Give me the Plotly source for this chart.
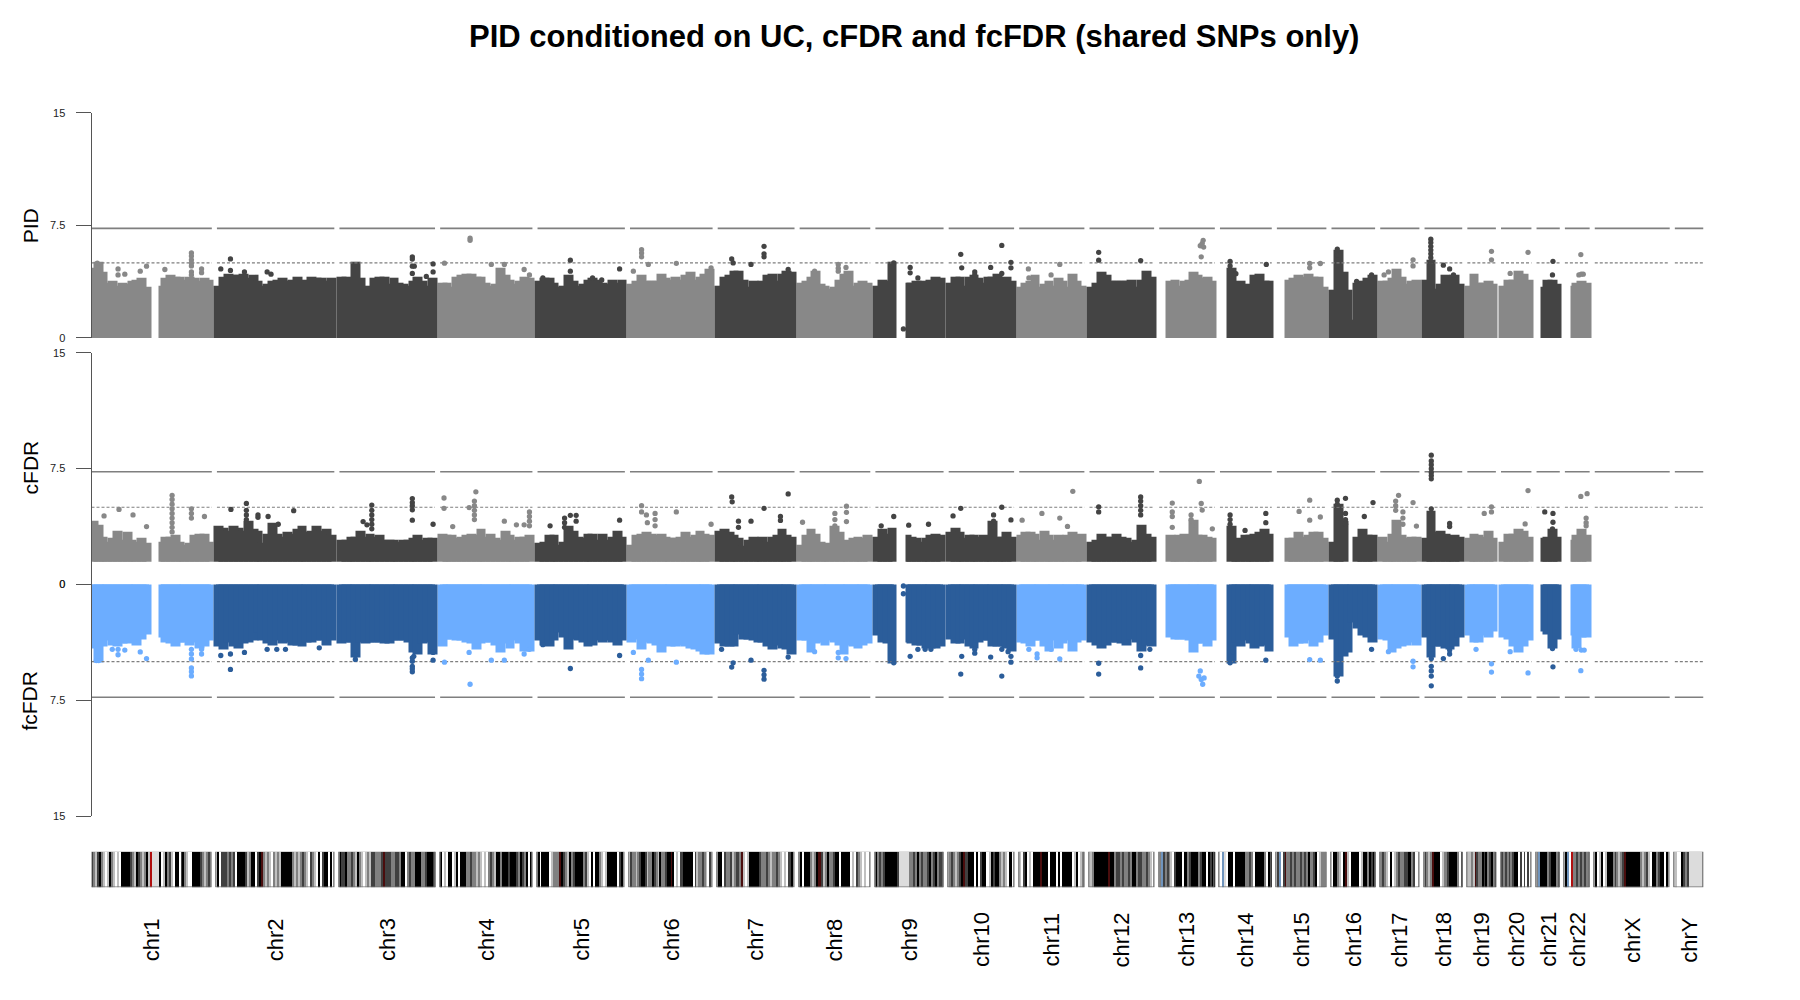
import plotly.graph_objects as go

CHROMS = ["chr1","chr2","chr3","chr4","chr5","chr6","chr7","chr8","chr9","chr10","chr11","chr12",
          "chr13","chr14","chr15","chr16","chr17","chr18","chr19","chr20","chr21","chr22","chrX","chrY"]
LENGTHS_MB = [249.25,243.2,198.02,191.15,180.92,171.12,159.14,146.36,141.21,135.53,135.01,133.85,
              115.17,107.35,102.53,90.35,81.2,78.08,59.13,63.03,48.13,51.3,155.27,59.37]
DARK_CHROMS = ["chr2","chr3","chr5","chr7","chr9","chr10","chr12","chr14","chr16","chr18","chr21"]
UNMAPPED_MB = {"chr1":(120,146),"chr9":(40,69),"chr13":(0,19),"chr14":(0,20),"chr15":(0,21),"chr21":(0,14),"chr22":(0,17)}
N = None

# top of the dense mass along each chromosome, PID track
PID_CHR1 = [4.5,4.9,4.2,3.5,3.6,3.3,3.5,3.4,3.6,3.7,3.8,3.2,N,N,3.3,3.8,4.0,3.9,3.9,3.7,3.9,3.8,3.6,3.8,3.7]
PID_CHR2 = [3.3,3.9,4.1,4.0,4.0,4.1,3.8,4.0,3.6,3.3,3.4,3.6,3.7,3.8,3.6,3.7,3.9,3.6,3.7,3.9,3.8,3.8,3.6,3.8]
PID_CHR3 = [3.9,3.9,3.8,4.9,3.8,3.3,3.1,3.8,3.9,3.9,3.4,3.8,3.5,3.4,3.3,3.6,3.9,3.6,3.3,3.8]
PID_CHR4 = [3.5,3.5,3.2,3.9,4.0,4.1,4.1,3.9,3.9,3.5,3.3,3.4,4.5,4.0,3.7,3.4,3.6,3.9,3.8]
PID_CHR5 = [3.6,3.8,3.8,3.5,3.2,3.3,4.0,3.6,3.3,3.4,3.7,3.8,3.7,3.5,3.4,3.7,3.5,3.7]
PID_CHR6 = [3.4,3.6,4.0,3.6,3.6,3.6,4.1,3.8,3.7,3.9,3.7,4.0,4.2,3.7,3.9,4.1,4.4]
PID_CHR7 = [3.3,3.9,4.0,4.3,4.3,3.7,3.2,3.6,3.4,3.6,4.0,4.1,3.6,4.1,4.3,4.2]
PID_CHR8 = [3.5,3.6,3.9,4.3,3.4,3.3,3.1,3.2,3.7,4.1,4.3,3.3,3.5,3.6,3.5]
PID_CHR9 = [3.3,3.7,3.6,4.9,N,N,3.5,3.5,3.6,3.6,3.4,3.7,3.9,3.8]
PID_CHR10 = [3.5,3.9,3.9,3.3,3.9,4.0,3.8,3.5,3.9,3.9,4.1,3.7,3.9,3.6]
PID_CHR11 = [3.2,3.5,3.6,4.0,3.2,3.4,3.6,3.3,3.8,3.6,3.2,4.1,3.6,3.3]
PID_CHR12 = [3.2,3.5,4.2,4.0,3.6,3.6,3.6,3.6,3.7,3.2,3.7,4.3,3.9]
PID_CHR13 = [N,N,3.6,3.7,3.3,3.6,3.7,4.2,4.0,3.8,3.9,3.6]
PID_CHR14 = [N,N,4.5,3.3,3.6,3.4,3.3,4.0,4.1,3.6,3.6]
PID_CHR15 = [N,N,3.7,3.8,4.0,3.9,4.1,3.9,3.9,3.2]
PID_CHR16 = [3.0,5.7,4.2,3.0,1.0,3.5,3.6,3.8,4.0]
PID_CHR17 = [3.6,3.6,3.8,4.4,3.9,3.4,3.6,3.7]
PID_CHR18 = [3.7,5.0,3.1,3.4,4.0,3.7,4.0,3.4]
PID_CHR19 = [3.3,4.1,3.5,3.5,3.6,3.4]
PID_CHR20 = [3.3,3.7,3.7,4.3,4.1,3.7]
PID_CHR21 = [N,3.2,3.7,3.7,3.4]
PID_CHR22 = [N,3.3,3.5,3.6,3.5]

# cFDR track
CFDR_CHR1 = [3.9,3.7,2.9,2.6,2.8,3.3,2.7,3.2,2.7,2.6,2.8,2.5,N,N,2.6,2.9,2.9,3.0,2.6,2.4,2.5,3.0,3.1,3.1,2.6]
CFDR_CHR2 = [3.6,3.5,3.3,3.6,3.5,3.3,3.9,3.4,3.3,2.5,3.1,3.8,3.1,2.9,3.2,3.1,3.4,3.6,3.2,3.3,3.6,3.3,3.4,3.0]
CFDR_CHR3 = [2.7,2.7,2.9,2.9,3.3,2.9,3.1,2.9,3.0,2.7,2.7,2.7,2.6,2.7,2.7,2.8,3.0,2.7,2.8,2.8]
CFDR_CHR4 = [3.1,3.0,3.0,2.8,2.9,3.0,3.1,3.0,3.4,2.9,3.1,2.8,2.7,3.3,3.0,2.7,2.9,2.9,3.0]
CFDR_CHR5 = [2.5,2.6,3.0,3.0,2.4,2.6,3.6,3.3,2.9,2.8,3.1,3.1,2.7,3.1,2.7,2.9,3.3,2.9]
CFDR_CHR6 = [2.4,3.0,3.1,3.2,3.1,3.0,3.1,2.9,2.8,2.8,2.9,3.2,2.9,3.0,3.3,3.1,3.0]
CFDR_CHR7 = [3.3,3.4,3.2,3.0,2.8,2.3,2.7,2.9,2.8,2.9,2.6,2.9,3.0,3.4,3.0,2.9]
CFDR_CHR8 = [2.4,3.0,3.4,3.1,2.6,2.4,2.5,3.6,3.2,2.6,2.7,2.8,2.9,2.8,3.0]
CFDR_CHR9 = [2.9,3.4,3.1,3.5,N,N,3.0,2.9,2.8,2.6,2.8,3.0,3.1,3.0]
CFDR_CHR10 = [3.2,3.5,3.2,2.8,3.0,3.0,2.9,3.0,2.9,3.9,2.9,2.9,3.2,2.9]
CFDR_CHR11 = [3.0,3.2,3.2,3.1,2.7,3.3,3.0,2.7,3.0,2.9,3.0,3.2,3.0,3.1]
CFDR_CHR12 = [2.6,2.7,3.1,2.9,2.9,3.1,2.9,2.8,2.6,2.7,3.7,3.1,2.9]
CFDR_CHR13 = [N,N,3.0,2.9,3.0,3.1,2.9,4.0,3.0,3.0,2.9,2.8]
CFDR_CHR14 = [N,N,3.6,2.7,2.8,3.0,3.0,3.1,3.2,3.4,3.1]
CFDR_CHR15 = [N,N,2.8,2.8,3.2,2.9,3.0,3.2,3.2,2.8]
CFDR_CHR16 = [2.6,5.0,3.9,N,N,2.9,3.4,3.0,3.0]
CFDR_CHR17 = [2.9,2.6,3.1,4.0,3.0,2.8,2.9,2.9]
CFDR_CHR18 = [2.8,4.6,3.2,3.3,3.1,2.9,3.0,2.9]
CFDR_CHR19 = [2.8,3.1,3.0,2.9,3.3,2.8]
CFDR_CHR20 = [2.6,3.1,3.1,3.4,3.3,2.9]
CFDR_CHR21 = [N,2.8,2.9,3.4,2.9]
CFDR_CHR22 = [N,2.7,3.0,3.4,3.0]
CFDR_FLOOR = 1.58

# fcFDR track (drawn downward)
FCFDR_CHR1 = [4.0,4.9,3.9,3.5,3.8,3.9,3.7,3.7,3.6,3.8,3.4,3.1,N,N,3.3,3.6,3.7,3.9,3.6,3.6,3.8,3.6,4.0,3.9,3.5]
FCFDR_CHR2 = [3.9,4.1,3.6,3.9,4.0,3.7,3.6,3.5,3.0,3.5,3.7,3.8,3.5,3.7,3.6,3.8,3.8,3.9,3.6,3.6,3.5,3.5,3.8,3.5]
FCFDR_CHR3 = [3.7,3.6,3.6,4.6,3.6,3.7,3.6,3.6,3.6,3.7,3.7,3.5,3.5,3.5,3.6,4.3,4.4,3.7,3.6,4.4]
FCFDR_CHR4 = [3.9,3.4,3.4,3.5,3.5,3.6,3.7,4.1,3.7,3.6,3.6,3.8,4.3,3.7,4.0,3.5,3.7,4.2,4.2]
FCFDR_CHR5 = [3.5,3.8,3.9,3.5,3.0,3.3,4.1,3.4,3.5,3.6,3.9,3.8,3.5,3.6,3.5,3.6,3.8,3.5]
FCFDR_CHR6 = [3.6,3.4,4.1,3.6,3.7,3.8,4.3,3.7,3.9,3.9,3.8,3.9,4.0,4.1,4.2,4.4,4.4]
FCFDR_CHR7 = [3.7,3.9,3.9,3.9,3.1,3.4,3.4,3.5,3.6,3.6,3.9,4.1,3.8,4.0,4.1,4.4]
FCFDR_CHR8 = [3.5,3.5,4.3,3.7,3.6,3.8,3.5,3.6,3.8,4.4,3.8,3.9,4.0,3.8,3.7]
FCFDR_CHR9 = [3.2,3.6,3.7,5.0,N,N,3.6,3.7,3.8,3.8,4.0,4.0,4.0,3.9]
FCFDR_CHR10 = [3.4,3.7,3.7,3.4,3.9,4.0,3.6,3.5,3.5,3.9,3.9,3.9,4.0,4.2]
FCFDR_CHR11 = [3.6,3.7,3.9,3.5,3.5,3.9,4.2,3.5,4.0,3.7,3.5,4.2,3.6,3.5]
FCFDR_CHR12 = [3.6,3.8,4.0,3.8,3.6,3.6,3.7,3.8,3.4,3.6,4.2,3.8,3.9]
FCFDR_CHR13 = [N,N,3.3,3.4,3.4,3.4,3.5,4.3,3.7,3.7,3.9,3.5]
FCFDR_CHR14 = [N,N,5.0,3.6,3.9,3.5,3.7,4.0,3.9,3.8,4.2]
FCFDR_CHR15 = [N,N,3.3,3.9,3.7,3.7,3.5,3.9,3.6,3.2]
FCFDR_CHR16 = [3.4,5.8,4.5,4.3,2.3,2.7,3.2,3.3,3.6]
FCFDR_CHR17 = [3.4,3.5,4.3,4.0,3.9,3.8,3.6,3.8]
FCFDR_CHR18 = [3.3,4.6,3.9,3.9,4.0,4.1,3.9,3.3]
FCFDR_CHR19 = [3.2,3.6,3.6,3.2,3.3,2.9]
FCFDR_CHR20 = [3.3,3.4,3.9,4.3,3.9,3.5]
FCFDR_CHR21 = [N,2.9,3.1,4.0,3.4]
FCFDR_CHR22 = [N,3.2,4.0,3.3,3.3]

# isolated SNPs: (chromosome, position Mb, -log10 value)
PID_PEAKS = [("chr1",12,4.99),("chr1",55,4.6),("chr1",55,4.2),("chr1",69,4.25),("chr1",101,4.45),("chr1",114,4.78),
 ("chr1",152,4.56),("chr1",207,5.66),("chr1",207,5.45),("chr1",207,5.2),("chr1",207,5.0),("chr1",207,4.8),("chr1",207,4.4),("chr1",207,4.2),("chr1",228,4.6),("chr1",228,4.35),
 ("chr2",8,4.6),("chr2",28,5.26),("chr2",28,4.5),("chr2",57,4.4),("chr2",104,4.4),("chr2",112,4.25),
 ("chr3",151,5.4),("chr3",151,5.25),("chr3",151,4.78),("chr3",151,4.3),("chr3",194,4.93),("chr3",194,4.4),("chr3",180,4.1),("chr3",155,4.78),
 ("chr4",9,4.98),("chr4",62,6.64),("chr4",62,6.5),("chr4",106,4.9),("chr4",133,4.9),("chr4",174,4.56),("chr4",185,4.2),
 ("chr5",11,4.0),("chr5",68,5.18),("chr5",68,4.45),("chr5",114,4.0),("chr5",133,3.86),("chr5",170,4.6),
 ("chr6",7,4.45),("chr6",24,5.88),("chr6",24,5.65),("chr6",24,5.4),("chr6",38,4.9),("chr6",96,4.97),("chr6",168,4.67),
 ("chr7",29,5.26),("chr7",32,5.0),("chr7",69,4.9),("chr7",96,6.1),("chr7",96,5.6),("chr7",96,5.4),("chr7",146,4.56),
 ("chr8",31,4.45),("chr8",80,4.9),("chr8",80,4.65),("chr8",80,4.45),("chr8",96,4.7),
 ("chr9",38,5.0),("chr9",58,0.6),("chr9",72,4.7),("chr9",72,4.34),("chr9",88,4.0),
 ("chr10",25,5.57),("chr10",27,4.67),("chr10",110,6.16),("chr10",129,5.04),("chr10",129,4.67),("chr10",87,4.7),("chr10",110,4.3),("chr10",54,4.4),("chr10",54,4.2),
 ("chr11",19,4.6),("chr11",20,4.0),("chr11",66,4.2),("chr11",84,4.9),
 ("chr12",19,5.7),("chr12",19,5.18),("chr12",106,5.15),
 ("chr13",91,6.5),("chr13",85,6.14),("chr13",89,6.3),("chr13",92,6.05),("chr13",87,5.4),
 ("chr14",21,5.1),("chr14",21,4.8),("chr14",33,4.28),("chr14",96,4.9),
 ("chr15",68,4.96),("chr15",68,4.67),("chr15",90,4.96),
 ("chr16",12,5.92),("chr16",12,5.5),("chr16",52,3.77),("chr16",83,4.2),
 ("chr17",8,4.2),("chr17",17,4.4),("chr17",68,5.2),("chr17",68,4.8),
 ("chr18",13,6.58),("chr18",13,6.35),("chr18",13,6.1),("chr18",13,5.85),("chr18",13,5.6),("chr18",13,5.35),("chr18",13,5.1),("chr18",39,4.85),("chr18",52,4.6),("chr18",60,4.2),
 ("chr19",50,5.77),("chr19",50,5.2),("chr20",56,5.7),("chr20",19,4.3),
 ("chr21",34,5.1),("chr21",33,4.2),("chr22",33,5.55),("chr22",29,4.2),("chr22",34,4.25),("chr22",38,4.25)]

CFDR_PEAKS = [("chr1",57,4.86),("chr1",26,4.44),("chr1",86,4.5),("chr1",114,3.75),
 ("chr1",167,5.77),("chr1",167,5.5),("chr1",167,5.2),("chr1",167,4.9),("chr1",167,4.6),("chr1",167,4.3),("chr1",167,4.0),("chr1",167,3.7),("chr1",167,3.4),("chr1",207,4.9),("chr1",207,4.6),("chr1",207,4.3),("chr1",234,4.4),
 ("chr2",29,4.86),("chr2",61,5.25),("chr2",61,4.8),("chr2",61,4.5),("chr2",61,4.2),("chr2",85,4.5),("chr2",85,4.35),("chr2",106,4.4),("chr2",127,3.9),("chr2",159,4.78),
 ("chr3",67,5.14),("chr3",67,4.8),("chr3",67,4.5),("chr3",67,4.2),("chr3",67,3.9),("chr3",67,3.6),("chr3",49,4.07),("chr3",57,3.86),("chr3",151,5.56),("chr3",151,5.3),("chr3",151,5.1),("chr3",151,4.83),("chr3",151,4.16),("chr3",194,3.9),
 ("chr4",8,5.6),("chr4",8,4.93),("chr4",26,3.75),("chr4",74,6.0),("chr4",71,5.4),("chr4",71,5.1),("chr4",71,4.8),("chr4",71,4.5),("chr4",71,4.2),("chr4",60,4.98),("chr4",133,4.1),("chr4",158,3.86),("chr4",174,3.86),("chr4",185,4.7),("chr4",185,4.4),("chr4",185,4.1),("chr4",185,3.8),
 ("chr5",26,3.8),("chr5",56,4.3),("chr5",56,4.0),("chr5",56,3.7),("chr5",68,4.48),("chr5",80,4.48),("chr5",80,4.1),("chr5",170,4.16),
 ("chr6",24,5.1),("chr6",24,4.7),("chr6",34,4.5),("chr6",36,4.0),("chr6",52,4.6),("chr6",52,4.2),("chr6",52,3.8),("chr6",96,4.7),("chr6",168,3.9),
 ("chr7",29,5.67),("chr7",30,5.35),("chr7",69,4.1),("chr7",96,4.93),("chr7",146,5.86),("chr7",130,4.4),("chr7",130,4.15),("chr7",43,4.1),("chr7",43,3.7),
 ("chr8",6,4.03),("chr8",97,5.07),("chr8",97,4.67),("chr8",97,4.07),("chr8",73,4.6),("chr8",73,4.2),("chr8",73,3.8),
 ("chr9",38,4.4),("chr9",12,3.8),("chr9",69,3.84),("chr9",110,3.9),
 ("chr10",25,4.93),("chr10",9,4.44),("chr10",110,5.0),("chr10",129,4.18),("chr10",93,4.5),("chr10",93,4.1),("chr10",93,3.7),
 ("chr11",6,4.16),("chr11",47,4.6),("chr11",84,4.3),("chr11",111,6.03),("chr11",100,3.76),
 ("chr12",19,5.03),("chr12",19,4.7),("chr12",106,5.67),("chr12",106,5.4),("chr12",106,5.1),("chr12",106,4.8),("chr12",106,4.5),
 ("chr13",27,5.27),("chr13",27,4.7),("chr13",27,4.4),("chr13",27,3.7),("chr13",83,6.67),("chr13",87,5.25),("chr13",89,4.82),("chr13",66,4.5),("chr13",66,4.2),("chr13",68,3.8),("chr13",110,3.6),
 ("chr14",21,4.5),("chr14",21,4.2),("chr14",21,3.9),("chr14",95,4.6),("chr14",95,4.0),("chr14",52,3.5),
 ("chr15",68,5.46),("chr15",46,4.73),("chr15",68,4.16),("chr15",90,4.37),
 ("chr16",12,5.46),("chr16",12,5.2),("chr16",29,5.58),("chr16",29,4.6),("chr16",29,4.2),("chr16",29,3.9),("chr16",68,4.4),("chr16",86,5.3),
 ("chr17",38,5.77),("chr17",32,5.4),("chr17",32,5.1),("chr17",32,4.8),("chr17",68,5.3),("chr17",75,3.78),("chr17",47,4.7),("chr17",47,4.3),("chr17",47,3.9),("chr17",32,3.95),
 ("chr18",14,8.37),("chr18",14,8.0),("chr18",14,7.75),("chr18",14,7.5),("chr18",14,7.25),("chr18",14,7.05),("chr18",14,6.84),("chr18",14,4.9),("chr18",52,3.95),("chr18",52,3.75),
 ("chr19",50,5.03),("chr19",50,4.7),("chr19",35,4.6),
 ("chr20",56,6.08),("chr20",50,3.92),
 ("chr21",17,4.7),("chr21",34,4.6),("chr21",34,4.03),("chr21",33,3.6),
 ("chr22",33,5.7),("chr22",46,5.88),("chr22",44,4.3),("chr22",44,4.0),("chr22",44,3.8)]

FCFDR_PEAKS = [("chr1",15,4.93),("chr1",10,4.93),("chr1",43,4.2),("chr1",55,4.2),("chr1",55,4.55),("chr1",69,4.25),("chr1",101,4.37),("chr1",114,4.8),
 ("chr1",207,4.2),("chr1",207,4.5),("chr1",207,4.82),("chr1",207,5.4),("chr1",207,5.65),("chr1",207,5.92),("chr1",228,4.2),("chr1",228,4.5),
 ("chr2",8,4.6),("chr2",28,4.5),("chr2",28,5.5),("chr2",57,4.4),("chr2",104,4.2),("chr2",124,4.2),("chr2",142,4.2),("chr2",212,4.1),
 ("chr3",33,4.6),("chr3",33,4.85),("chr3",151,4.75),("chr3",154,4.65),("chr3",151,4.97),("chr3",151,5.3),("chr3",151,5.45),("chr3",151,5.65),("chr3",194,4.4),("chr3",194,4.9),
 ("chr4",9,5.03),("chr4",62,6.46),("chr4",60,4.4),("chr4",106,4.9),("chr4",133,4.9),("chr4",174,4.5),("chr4",185,4.2),
 ("chr5",11,3.9),("chr5",68,5.44),("chr5",170,4.6),
 ("chr6",7,4.4),("chr6",24,5.5),("chr6",24,5.8),("chr6",24,6.1),("chr6",38,4.9),("chr6",96,5.03),
 ("chr7",29,5.35),("chr7",32,5.07),("chr7",8,4.2),("chr7",69,4.9),("chr7",96,5.56),("chr7",96,5.85),("chr7",96,6.13),("chr7",146,4.7),
 ("chr8",80,4.4),("chr8",80,4.75),("chr8",96,4.8),("chr8",31,4.35),
 ("chr9",38,5.07),("chr9",58,0.1),("chr9",58,0.6),("chr9",72,4.65),("chr9",88,4.2),("chr9",103,4.2),("chr9",115,4.2),
 ("chr10",25,5.8),("chr10",27,4.65),("chr10",110,5.93),("chr10",129,4.65),("chr10",129,5.03),("chr10",87,4.7),("chr10",54,3.9),("chr10",54,4.2),("chr10",54,4.45),("chr10",110,4.2),("chr10",123,4.35),
 ("chr11",20,4.2),("chr11",37,4.5),("chr11",37,4.75),("chr11",66,4.2),("chr11",84,4.82),
 ("chr12",19,5.1),("chr12",19,5.8),("chr12",106,5.4),("chr12",106,4.6),("chr12",125,4.2),
 ("chr13",85,5.6),("chr13",82,5.93),("chr13",87,6.15),("chr13",93,6.05),("chr13",90,6.46),
 ("chr14",21,5.07),("chr14",95,4.9),("chr14",27,4.35),
 ("chr15",68,4.86),("chr15",90,4.9),
 ("chr16",12,5.93),("chr16",12,6.25),("chr16",83,4.2),
 ("chr17",17,4.35),("chr17",68,4.97),("chr17",68,5.33),
 ("chr18",14,4.5),("chr18",14,4.8),("chr18",14,5.3),("chr18",14,5.6),("chr18",14,5.93),("chr18",14,6.56),("chr18",39,4.8),("chr18",52,4.5),("chr18",52,4.25),
 ("chr19",50,5.14),("chr19",50,5.67),("chr19",18,4.2),
 ("chr20",56,5.73),("chr20",19,4.35),
 ("chr21",34,5.33),("chr21",33,4.15),
 ("chr22",33,5.58),("chr22",23,4.2),("chr22",34,4.25),("chr22",40,4.25)]

# ideogram stain codes along each chromosome
IDEO_CHR1 = "dmldkmlwlkmlwlwkkkkkdmlkdmlmklrcccckwlkmdlwkkwdkmlwwkkkkdmlmdl"
IDEO_CHR2 = "kwdddmdmdwkkkkdlmkkwdknmlmlwmlmlkkkkkmlmlmdmlwdmlwkwdkkwkw"
IDEO_CHR3 = "kddkmmdmlkmlwlmlddmmmdndddmmddmkkwmdmmkkkmmdkkkd"
IDEO_CHR4 = "kwlwkkwlkwkkkmmdmmlmlwlwmdmlkkmkkkdkkkdmkdmkwk"
IDEO_CHR5 = "kwkkkkwlmmmnkdmlkmdkkkkmdlwkwkkmlwlkkkkkwdkw"
IDEO_CHR6 = "dmmlmdkkdlmmkdmlkmmdkknkwlwddkkkkkwdlmmdmlwdw"
IDEO_CHR7 = "kkwdmmdlmdmnlwlkkkkkdmmdmlmmdmlwlwdkw"
IDEO_CHR8 = "kwkkkmlmkndlmkmmdkkwkkkkwlwdmlwlww"
IDEO_CHR9 = "kmdmdkkkkkkdcccccmmdmkmdmmdkmdkmdd"
IDEO_CHR10 = "mdmlmdkndkkkwkwdkkwlkdkkmlmlwkw"
IDEO_CHR11 = "lwdkwlwkkknkkkwkkkwkwkkkkkwlkwlm"
IDEO_CHR12 = "lmkkkkkkknkkmddmdmmdmkkmddmmdmlw"
IDEO_CHR13 = "mbdmdmlwdkkkwkkmdkkkkmdkkwkdkk"
IDEO_CHR14 = "wbcwkkkwkkkkkmmdmwkkkkkmwkk"
IDEO_CHR15 = "dbwdnmmdmdmmdmdmkmmdkwlmml"
IDEO_CHR16 = "wkkmlwknlwkkkkwlkkmkdk"
IDEO_CHR17 = "mdmlwkwlmdmmddkkmdww"
IDEO_CHR18 = "dmlmnkkkwlmmdkkkkmwk"
IDEO_CHR19 = "llmlndmmkdkmdkmd"
IDEO_CHR20 = "dmdmdmdkkwdwdwdw"
IDEO_CHR21 = "mbkkkkmdkkkmk"
IDEO_CHR22 = "kbwrmmdmdmdmm"
IDEO_CHRX = "kwlkwlkkkmdmlmdnkkkkkkkmlmdlwkkmdkkwkw"
IDEO_CHRY = "lwwkdmdccccccc"

PID_TRACK = [PID_CHR1,PID_CHR2,PID_CHR3,PID_CHR4,PID_CHR5,PID_CHR6,PID_CHR7,PID_CHR8,PID_CHR9,PID_CHR10,PID_CHR11,
             PID_CHR12,PID_CHR13,PID_CHR14,PID_CHR15,PID_CHR16,PID_CHR17,PID_CHR18,PID_CHR19,PID_CHR20,PID_CHR21,PID_CHR22]
CFDR_TRACK = [CFDR_CHR1,CFDR_CHR2,CFDR_CHR3,CFDR_CHR4,CFDR_CHR5,CFDR_CHR6,CFDR_CHR7,CFDR_CHR8,CFDR_CHR9,CFDR_CHR10,CFDR_CHR11,
              CFDR_CHR12,CFDR_CHR13,CFDR_CHR14,CFDR_CHR15,CFDR_CHR16,CFDR_CHR17,CFDR_CHR18,CFDR_CHR19,CFDR_CHR20,CFDR_CHR21,CFDR_CHR22]
FCFDR_TRACK = [FCFDR_CHR1,FCFDR_CHR2,FCFDR_CHR3,FCFDR_CHR4,FCFDR_CHR5,FCFDR_CHR6,FCFDR_CHR7,FCFDR_CHR8,FCFDR_CHR9,FCFDR_CHR10,FCFDR_CHR11,
               FCFDR_CHR12,FCFDR_CHR13,FCFDR_CHR14,FCFDR_CHR15,FCFDR_CHR16,FCFDR_CHR17,FCFDR_CHR18,FCFDR_CHR19,FCFDR_CHR20,FCFDR_CHR21,FCFDR_CHR22]
IDEOGRAMS = [IDEO_CHR1,IDEO_CHR2,IDEO_CHR3,IDEO_CHR4,IDEO_CHR5,IDEO_CHR6,IDEO_CHR7,IDEO_CHR8,IDEO_CHR9,IDEO_CHR10,IDEO_CHR11,IDEO_CHR12,
             IDEO_CHR13,IDEO_CHR14,IDEO_CHR15,IDEO_CHR16,IDEO_CHR17,IDEO_CHR18,IDEO_CHR19,IDEO_CHR20,IDEO_CHR21,IDEO_CHR22,IDEO_CHRX,IDEO_CHRY]

GW_LINE = 7.3
SUGGESTIVE = 5.0
Y_TICKS = [0, 7.5, 15]

# styles
STAIN_KEYS = "kdmlwcrnb"
STAIN_COLOURS = ["#000000","#404040","#808080","#c0c0c0","#ffffff","#dcdcdc","#b01010","#4a0d0d","#6f94bd"]
GREY = {"light":"#888888","dark":"#444444"}
BLUE = {"light":"#6cadff","dark":"#2b5d9a"}
AXIS = "#555555"
GAP_MB = 10.6
W, H = 1800, 1000
X_L, X_R = 91.5, 1703.5
MARK = 5.3
STROKE = 5

starts, pos = {}, 0.0
for c, l in zip(CHROMS, LENGTHS_MB):
    starts[c] = pos
    pos += l + GAP_MB
x_end = pos - GAP_MB
length = dict(zip(CHROMS, LENGTHS_MB))
shade = lambda c: "dark" if c in DARK_CHROMS else "light"

fig = go.Figure()

def threshold_lines(yaxis):
    xs_s, ys_s, xs_d, ys_d = [], [], [], []
    for c in CHROMS:
        a, b = starts[c], starts[c] + length[c]
        xs_s += [a, b, None]; ys_s += [GW_LINE, GW_LINE, None]
        xs_d += [a, b, None]; ys_d += [SUGGESTIVE, SUGGESTIVE, None]
    return xs_s, ys_s, xs_d, ys_d

def add_track(track, peaks, palette, yaxis, floor):
    for tone in ("light", "dark"):
        xs, ys, ws, bs = [], [], [], []
        for c, env in zip(CHROMS, track):
            if shade(c) != tone:
                continue
            step = length[c] / len(env)
            gap = UNMAPPED_MB.get(c)
            for i, v in enumerate(env):
                if v is None:
                    continue
                a, b = i * step, (i + 1) * step
                if gap and a < gap[1] and b > gap[0]:
                    if a >= gap[0]:
                        a = gap[1]
                    else:
                        b = gap[0]
                xs.append(starts[c] + (a + b) / 2); ys.append(v - floor); ws.append(b - a); bs.append(floor)
        fig.add_bar(x=xs, y=ys, width=ws, base=bs, yaxis=yaxis, cliponaxis=False, showlegend=False,
                    marker=dict(color=palette[tone], line=dict(color=palette[tone], width=STROKE)))
    xs_s, ys_s, xs_d, ys_d = threshold_lines(yaxis)
    fig.add_scatter(x=xs_s, y=ys_s, yaxis=yaxis, mode="lines", showlegend=False, cliponaxis=False,
                    line=dict(color="#7f7f7f", width=1.6))
    fig.add_scatter(x=xs_d, y=ys_d, yaxis=yaxis, mode="lines", showlegend=False, cliponaxis=False,
                    line=dict(color="#7f7f7f", width=1.2, dash="3px,2px"))
    for tone in ("light", "dark"):
        sel = [p for p in peaks if shade(p[0]) == tone]
        fig.add_scatter(x=[starts[p[0]] + p[1] for p in sel], y=[p[2] for p in sel], yaxis=yaxis,
                        mode="markers", showlegend=False, cliponaxis=False,
                        marker=dict(color=palette[tone], size=MARK, line=dict(width=0)))

add_track(PID_TRACK, PID_PEAKS, GREY, "y", 0)
add_track(CFDR_TRACK, CFDR_PEAKS, GREY, "y2", CFDR_FLOOR)
add_track(FCFDR_TRACK, FCFDR_PEAKS, BLUE, "y3", 0)

# ideogram
n_st = len(STAIN_KEYS)
scale = []
for i, col in enumerate(STAIN_COLOURS):
    scale += [[i / n_st, col], [(i + 1) / n_st, col]]
for c, code in zip(CHROMS, IDEOGRAMS):
    dx = length[c] / len(code)
    fig.add_heatmap(z=[[STAIN_KEYS.index(ch) for ch in code]], x0=starts[c] + dx / 2, dx=dx, y0=0, dy=1,
                    yaxis="y4", zmin=0, zmax=n_st, colorscale=scale, showscale=False, zsmooth=False, hoverinfo="skip")
fig.add_bar(x=[starts[c] + length[c] / 2 for c in CHROMS], y=[1] * len(CHROMS), base=[-0.5] * len(CHROMS),
            width=LENGTHS_MB, yaxis="y4", showlegend=False,
            marker=dict(color="rgba(0,0,0,0)", line=dict(color="#6e6e6e", width=1.3)))

def dom(top_px, bottom_px):
    return [1 - bottom_px / H, 1 - top_px / H]

def yax(domain, rng):
    return dict(domain=domain, range=rng, anchor="x", tickmode="array", tickvals=Y_TICKS, ticktext=["0", "7.5", "15"],
                showgrid=False, zeroline=False, showline=True, linecolor=AXIS, linewidth=1, ticks="outside",
                ticklen=15, tickcolor=AXIS, tickwidth=1, tickfont=dict(family="Liberation Sans", size=11, color="#222222"),
                ticklabelstandoff=8)

annotations = []
for c in CHROMS:
    annotations.append(dict(text=c, x=starts[c] + length[c] / 2, xref="x", y=1 - 945 / H, yref="paper",
                            showarrow=False, textangle=-90, xanchor="center", yanchor="middle",
                            font=dict(family="Liberation Sans", size=22, color="#000000")))
for label, ypx in (("PID", 223), ("cFDR", 467), ("fcFDR", 703)):
    annotations.append(dict(text=label, x=30 / W, xref="paper", y=1 - ypx / H, yref="paper", showarrow=False,
                            textangle=-90, xanchor="center", yanchor="middle",
                            font=dict(family="Liberation Sans", size=21, color="#000000")))
annotations.append(dict(text="<b>PID conditioned on UC, cFDR and fcFDR (shared SNPs only)</b>", x=914 / W, xref="paper",
                        y=1 - 31 / H, yref="paper", showarrow=False, xanchor="center", yanchor="middle",
                        font=dict(family="Liberation Sans", size=31, color="#000000")))

fig.update_layout(
    width=W, height=H, autosize=False, margin=dict(l=0, r=0, t=0, b=0), paper_bgcolor="white", plot_bgcolor="white",
    barmode="overlay", bargap=0, showlegend=False, annotations=annotations,
    xaxis=dict(domain=[X_L / W, X_R / W], range=[0, x_end], visible=False, fixedrange=True),
    yaxis=yax(dom(108, 336), [0, 15]),
    yaxis2=yax(dom(351, 585.5), [0, 15]),
    yaxis3=yax(dom(585.5, 820), [15, 0]),
    yaxis4=dict(domain=dom(856, 892), range=[-0.5, 0.5], visible=False, anchor="x"),
)
fig.write_html("out.html", config={"displayModeBar": False}, post_script="document.body.style.margin='0';")
